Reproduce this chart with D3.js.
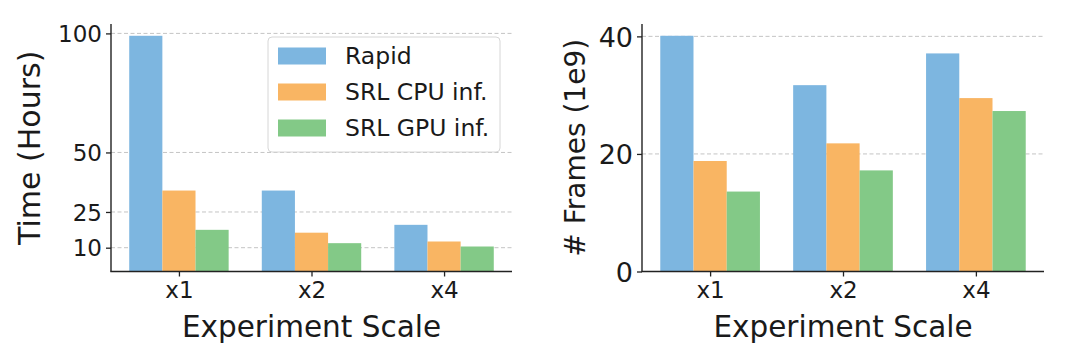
<!DOCTYPE html>
<html><head><meta charset="utf-8">
<script src="https://cdn.jsdelivr.net/npm/d3@7"></script>
<style>
html,body{margin:0;padding:0;background:#fff;}
svg text{font-family:"DejaVu Sans",sans-serif;fill:#1a1a1a;}
</style></head>
<body>
<svg id="chart" width="1080" height="359"></svg>
<script>
const categories = ["x1", "x2", "x4"];
const seriesNames = ["Rapid", "SRL CPU inf.", "SRL GPU inf."];
const timeRapid = [99, 34, 19.6];
const timeCPU = [34, 16.3, 12.6];
const timeGPU = [17.5, 11.9, 10.5];
const framesRapid = [40.1, 31.7, 37.1];
const framesCPU = [18.8, 21.8, 29.5];
const framesGPU = [13.6, 17.2, 27.3];
const timeTicks = [10, 25, 50, 100];
const frameTicks = [0, 20, 40];
const colors = ["#7db6e0", "#f9b563", "#83c987"];

const svg = d3.select("#chart");

function panel(opts) {
  const {x0, x1, yTop, yBot, series, ticks, ylabel, ylabelX, ylabelSize, ytickSize, legend} = opts;
  const g = svg.append("g");
  const maxV = d3.max(series.flat());
  const y = d3.scaleLinear().domain([0, maxV * 1.05]).range([yBot, yTop]);
  const x = d3.scaleLinear().domain([-0.5125, 2.5125]).range([x0, x1]);
  const bw = 0.25;

  // grid
  g.append("g").selectAll("line").data(ticks.filter(t => t > 0)).join("line")
    .attr("x1", x0).attr("x2", x1)
    .attr("y1", d => y(d)).attr("y2", d => y(d))
    .attr("stroke", "#c4c4c4").attr("stroke-width", 1)
    .attr("stroke-dasharray", "4,2.5");

  // bars
  series.forEach((vals, si) => {
    g.append("g").selectAll("rect").data(vals).join("rect")
      .attr("x", (d, i) => x(i + (si - 1) * bw - bw / 2))
      .attr("width", x(bw) - x(0))
      .attr("y", d => y(d))
      .attr("height", d => y(0) - y(d))
      .attr("fill", colors[si]);
  });

  // y axis
  const ya = g.append("g").attr("transform", `translate(${x0},0)`)
    .call(d3.axisLeft(y).tickValues(ticks).tickSize(5).tickPadding(4).tickFormat(d3.format("d")));
  ya.select(".domain").remove();
  ya.selectAll(".tick line").attr("stroke", "#222").attr("stroke-width", 1.3);
  ya.selectAll(".tick text").attr("font-size", ytickSize).attr("dy", "0.36em").style("fill", "#1a1a1a");

  // x axis
  const xa = g.append("g").attr("transform", `translate(0,${yBot})`)
    .call(d3.axisBottom(x).tickValues([0, 1, 2]).tickSize(5).tickPadding(5).tickFormat(i => categories[i]));
  xa.select(".domain").remove();
  xa.selectAll(".tick line").attr("stroke", "#222").attr("stroke-width", 1.3);
  xa.selectAll(".tick text").attr("font-size", 23).style("fill", "#1a1a1a");

  // spines
  g.append("line").attr("x1", x0).attr("x2", x0).attr("y1", yTop).attr("y2", yBot)
    .attr("stroke", "#222").attr("stroke-width", 1.4);
  g.append("line").attr("x1", x0 - 0.7).attr("x2", x1).attr("y1", yBot).attr("y2", yBot)
    .attr("stroke", "#222").attr("stroke-width", 1.4);

  // labels
  g.append("text").attr("x", (x0 + x1) / 2).attr("y", 337).attr("text-anchor", "middle")
    .attr("font-size", 29.5).text("Experiment Scale");
  g.append("text").attr("transform", `translate(${ylabelX},${(yTop + yBot) / 2}) rotate(-90)`)
    .attr("text-anchor", "middle").attr("font-size", ylabelSize).text(ylabel);

  if (legend) {
    const lg = g.append("g");
    lg.append("rect").attr("x", 268).attr("y", 37).attr("width", 232).attr("height", 115)
      .attr("rx", 4).attr("fill", "rgba(255,255,255,0.85)").attr("stroke", "#d6d6d6").attr("stroke-width", 1);
    seriesNames.forEach((n, i) => {
      const cy = 56 + i * 36;
      lg.append("rect").attr("x", 278).attr("y", cy - 8.5).attr("width", 48).attr("height", 17).attr("fill", colors[i]);
      lg.append("text").attr("x", 345).attr("y", cy).attr("dy", "0.36em").attr("font-size", 23.5).text(n);
    });
  }
}

panel({x0: 111, x1: 512, yTop: 24, yBot: 271.5,
  series: [timeRapid, timeCPU, timeGPU], ticks: timeTicks,
  ylabel: "Time (Hours)", ylabelX: 40, ylabelSize: 30, ytickSize: 23, legend: true});
panel({x0: 642, x1: 1044, yTop: 24, yBot: 271.5,
  series: [framesRapid, framesCPU, framesGPU], ticks: frameTicks,
  ylabel: "# Frames (1e9)", ylabelX: 585, ylabelSize: 28, ytickSize: 27, legend: false});
</script>
</body></html>
